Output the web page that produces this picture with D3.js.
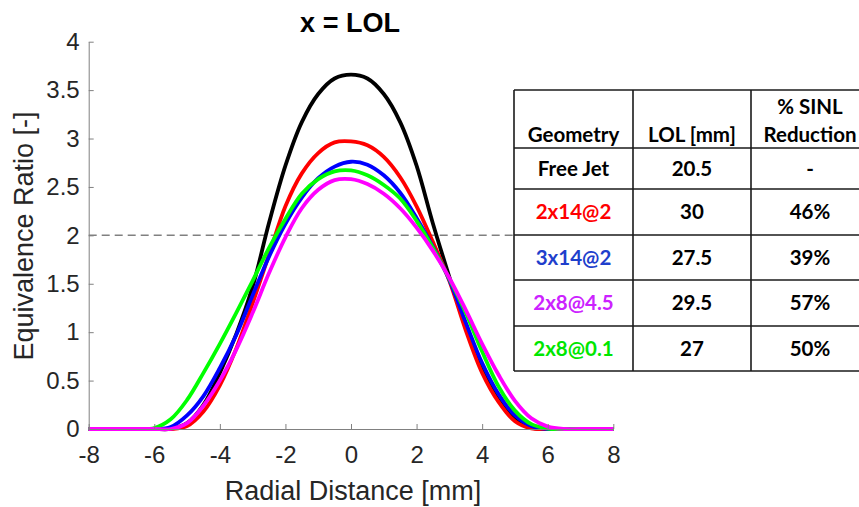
<!doctype html>
<html lang="en">
  <head>
    <meta charset="utf-8">
    <title>x = LOL</title>
    <style>
      body { margin: 0; background: #fff; }
      svg { display: block; }
    </style>
  </head>
  <body>
    <div id="chart"></div>
    <script src="https://d3js.org/d3.v7.min.js"></script>
    <script>
    // radial positions shared by all profiles [mm]
    var radial = [-8, -7, -6.5, -6, -5.5, -5, -4.5, -4, -3.5, -3, -2.5, -2, -1.5, -1, -0.5, 0,
                  0.5, 1, 1.5, 2, 2.5, 3, 3.5, 4, 4.5, 5, 5.5, 6, 6.5, 7, 8];

    var freeJet  = [0, 0, 0, 0, 0, 0.06, 0.25, 0.58, 0.98, 1.47, 2.13, 2.72, 3.17, 3.46, 3.62, 3.66,
                    3.62, 3.46, 3.17, 2.72, 2.12, 1.57, 1.05, 0.63, 0.30, 0.10, 0.015, 0, 0, 0, 0];
    var g2x14at2 = [0, 0, 0, 0, 0, 0.03, 0.18, 0.45, 0.83, 1.30, 1.80, 2.30, 2.64, 2.85, 2.96, 2.97,
                    2.93, 2.81, 2.60, 2.30, 1.93, 1.53, 1.02, 0.58, 0.28, 0.08, 0.005, 0, 0, 0, 0];
    var g3x14at2 = [0, 0, 0, 0, 0.02, 0.14, 0.34, 0.63, 0.97, 1.38, 1.78, 2.12, 2.39, 2.59, 2.71, 2.76,
                    2.73, 2.62, 2.44, 2.18, 1.88, 1.54, 1.10, 0.68, 0.36, 0.14, 0.03, 0, 0, 0, 0];
    var g2x8at01 = [0, 0, 0, 0.01, 0.10, 0.30, 0.58, 0.88, 1.20, 1.53, 1.87, 2.17, 2.43, 2.58, 2.66, 2.67,
                    2.62, 2.52, 2.38, 2.15, 1.87, 1.55, 1.20, 0.80, 0.44, 0.19, 0.05, 0.005, 0, 0, 0];
    var g2x8at45 = [0, 0, 0, 0, 0, 0.06, 0.24, 0.50, 0.82, 1.20, 1.61, 1.98, 2.28, 2.47, 2.57, 2.58,
                    2.53, 2.43, 2.28, 2.08, 1.84, 1.56, 1.23, 0.88, 0.56, 0.29, 0.11, 0.025, 0, 0, 0];

    // drawing order as in the figure (magenta on top)
    var series = [
      {name: "Free Jet", values: freeJet,  color: "#000000"},
      {name: "2x14@2",   values: g2x14at2, color: "#ff0000"},
      {name: "3x14@2",   values: g3x14at2, color: "#0000ff"},
      {name: "2x8@0.1",  values: g2x8at01, color: "#00ff00"},
      {name: "2x8@4.5",  values: g2x8at45, color: "#ff00ff"}
    ];

    var xTicks = [-8, -6, -4, -2, 0, 2, 4, 6, 8];
    var yTicks = [0, 0.5, 1, 1.5, 2, 2.5, 3, 3.5, 4];
    var threshold = 2;

    // table
    var tableHeader  = [["Geometry"], ["LOL [mm]"], ["% SINL", "Reduction"]];
    var geometries   = ["Free Jet", "2x14@2", "3x14@2", "2x8@4.5", "2x8@0.1"];
    var geometryText = ["#000000", "#ff0000", "#1f3fcc", "#cc22ff", "#00e600"];
    var lolValues    = ["20.5", "30", "27.5", "29.5", "27"];
    var sinlValues   = ["-", "46%", "39%", "57%", "50%"];

    var width = 859, height = 507;

    var svg = d3.select("#chart")
        .append("svg")
        .attr("width", width)
        .attr("height", height)
        .attr("viewBox", "0 0 " + width + " " + height);

    var x = d3.scaleLinear().domain([-8, 8]).range([88.7, 613.3]);
    var y = d3.scaleLinear().domain([0, 4]).range([429, 41.7]);

    var axisFont = "'Liberation Sans', Arial, Helvetica, sans-serif";

    // dashed reference line
    svg.append("line")
        .attr("x1", x(-8)).attr("x2", x(8))
        .attr("y1", y(threshold)).attr("y2", y(threshold))
        .attr("stroke", "#808080")
        .attr("stroke-width", 1.5)
        .attr("stroke-dasharray", "8,5");

    var line = d3.line()
        .x(function(d, i){ return x(radial[i]); })
        .y(function(d){ return y(Math.max(0, d)); })
        .curve(d3.curveCatmullRom.alpha(0.5));

    svg.selectAll("path.profile")
        .data(series)
        .join("path")
        .attr("class", "profile")
        .attr("d", function(d){ return line(d.values); })
        .attr("fill", "none")
        .attr("stroke", function(d){ return d.color; })
        .attr("stroke-width", 3.8)
        .attr("stroke-linejoin", "round");

    // axes, MATLAB style: ticks pointing inward
    var xAxis = svg.append("g")
        .attr("transform", "translate(0," + y(0) + ")")
        .call(d3.axisBottom(x).tickValues(xTicks).tickSize(-5).tickSizeOuter(0)
              .tickPadding(17).tickFormat(function(d){ return String(d); }));

    var yAxis = svg.append("g")
        .attr("transform", "translate(" + x(-8) + ",0)")
        .call(d3.axisLeft(y).tickValues(yTicks).tickSize(-5).tickSizeOuter(0)
              .tickPadding(9).tickFormat(function(d){ return String(d); }));

    [xAxis, yAxis].forEach(function(g){
      g.select(".domain").attr("stroke", "#808080");
      g.selectAll(".tick line").attr("stroke", "#808080");
      g.selectAll(".tick text")
          .attr("fill", "#262626")
          .style("font-family", axisFont)
          .style("font-size", "24px");
    });

    // labels
    svg.append("text")
        .attr("x", 353).attr("y", 500)
        .attr("text-anchor", "middle")
        .attr("fill", "#262626")
        .style("font-family", axisFont)
        .style("font-size", "27px")
        .text("Radial Distance [mm]");

    svg.append("text")
        .attr("transform", "translate(33," + 236 + ") rotate(-90)")
        .attr("text-anchor", "middle")
        .attr("fill", "#262626")
        .style("font-family", axisFont)
        .style("font-size", "27px")
        .text("Equivalence Ratio [-]");

    svg.append("text")
        .attr("x", 350).attr("y", 32)
        .attr("text-anchor", "middle")
        .attr("fill", "#000")
        .style("font-family", axisFont)
        .style("font-size", "27px")
        .style("font-weight", "bold")
        .text("x = LOL");

    // table drawn over the plot
    var colEdges = [514, 633, 751, 869];
    var rowEdges = [90, 148, 189, 235, 280, 326, 371];
    var tableFont = "Lato, 'Open Sans', sans-serif";

    var table = svg.append("g");

    table.append("rect")
        .attr("x", colEdges[0]).attr("y", rowEdges[0])
        .attr("width", colEdges[3] - colEdges[0])
        .attr("height", rowEdges[rowEdges.length - 1] - rowEdges[0])
        .attr("fill", "#fff");

    table.selectAll("line.h")
        .data(rowEdges)
        .join("line")
        .attr("class", "h")
        .attr("x1", colEdges[0]).attr("x2", colEdges[3])
        .attr("y1", function(d){ return d; }).attr("y2", function(d){ return d; })
        .attr("stroke", "#1a1a1a").attr("stroke-width", 1.6);

    table.selectAll("line.v")
        .data(colEdges)
        .join("line")
        .attr("class", "v")
        .attr("y1", rowEdges[0]).attr("y2", rowEdges[rowEdges.length - 1])
        .attr("x1", function(d){ return d; }).attr("x2", function(d){ return d; })
        .attr("stroke", "#1a1a1a").attr("stroke-width", 1.6);

    function cellX(c){ return (colEdges[c] + colEdges[c + 1]) / 2; }
    function cellY(r){ return (rowEdges[r + 1] + rowEdges[r + 2]) / 2; }

    // header, bottom aligned
    tableHeader.forEach(function(lines, c){
      lines.forEach(function(t, k){
        table.append("text")
            .attr("x", cellX(c))
            .attr("y", 142 - (lines.length - 1 - k) * 28)
            .attr("text-anchor", "middle")
            .attr("fill", "#000")
            .style("font-family", tableFont)
            .style("font-size", "20.5px")
            .style("font-weight", "bold")
            .text(t);
      });
    });

    var columns = [geometries, lolValues, sinlValues];
    columns.forEach(function(col, c){
      table.selectAll("text.c" + c)
          .data(col)
          .join("text")
          .attr("class", "c" + c)
          .attr("x", cellX(c))
          .attr("y", function(d, r){ return cellY(r); })
          .attr("dy", "0.36em")
          .attr("text-anchor", "middle")
          .attr("fill", function(d, r){ return c === 0 ? geometryText[r] : "#000"; })
          .style("font-family", tableFont)
          .style("font-size", "20.5px")
          .style("font-weight", "bold")
          .text(function(d){ return d; });
    });
    </script>
  </body>
</html>
